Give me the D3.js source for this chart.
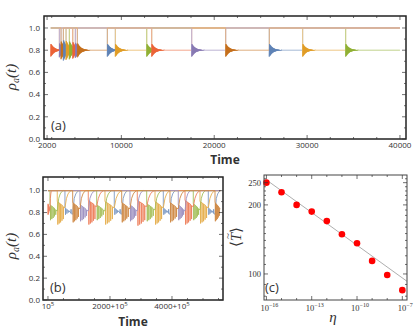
<!DOCTYPE html>
<html>
<head>
<meta charset="utf-8">
<script src="https://cdn.jsdelivr.net/npm/d3@7/dist/d3.min.js"></script>
<style>
  body { margin: 0; background: #fff; }
  svg { display: block; }
  text { font-family: 'Open Sans', sans-serif; fill: #333; }
</style>
</head>
<body>
<svg id="fig" width="415" height="330"></svg>
<script>
const palette = ['#5E81B5', '#E19C24', '#8FB032', '#EB6235', '#8778B3', '#C56E1A']

// (a) switching events: time, which unit drops, how strong the ringing is
const aStart = 2400
const aEnd = 40000
const aEventTimes = [2400, 3324, 3507, 3755, 4045, 4400, 4766, 5046, 5262, 8491, 9352, 12732, 13270, 17576, 21236, 25929, 29524, 34153]
const aEventSeries = [3, 4, 5, 0, 1, 2, 3, 4, 5, 0, 1, 2, 3, 4, 5, 0, 1, 2]
const aEventScale = [1.0, 1.1, 1.4, 1.6, 1.5, 1.4, 1.3, 1.2, 1.1, 1, 1, 1, 1, 1, 1, 1, 1, 1]
// ringing around 0.8 after a drop, one value every ringStep
const ringStep = 30
const ringOffsets = [-0.058, 0.055, -0.051, 0.047, -0.044, 0.040, -0.037, 0.034, -0.031, 0.029,
  -0.027, 0.025, -0.023, 0.021, -0.019, 0.018, -0.016, 0.015, -0.014, 0.013,
  -0.012, 0.011, -0.010, 0.009, -0.0085, 0.008, -0.0075, 0.007, -0.0065, 0.006,
  -0.0055, 0.005, -0.0045, 0.004, -0.0035, 0.003, -0.003, 0.0025, -0.0025, 0.002,
  -0.002, 0.0015, -0.0015, 0.001, -0.001, 0.0005, 0]

// (b) times after 10^5
const bStart = 0
const bEnd = 5560
const bEventTimes = [0, 65, 300, 548, 797, 1032, 1300, 1571, 1839, 2139, 2378, 2645, 2881, 3184, 3452, 3720, 3935, 4203, 4420, 4687, 4903, 5171, 5387]
const bEventSeries = [3, 2, 1, 0, 5, 4, 3, 2, 1, 0, 5, 4, 3, 2, 1, 0, 5, 4, 3, 2, 1, 0, 5]
const bTop = [0.88, 0.87, 0.90, 0.84, 0.89, 0.87, 0.91, 0.87, 0.90, 0.84, 0.89, 0.87, 0.91, 0.88, 0.90, 0.84, 0.89, 0.87, 0.91, 0.88, 0.90, 0.84, 0.89]
const bLow = [0.78, 0.73, 0.69, 0.78, 0.71, 0.72, 0.69, 0.73, 0.69, 0.78, 0.71, 0.72, 0.68, 0.72, 0.69, 0.78, 0.71, 0.73, 0.69, 0.73, 0.70, 0.78, 0.72]
const bSpikePhase = [0.06, 0.24, 0.42, 0.6, 0.78]
const bTopDrop = [0, 0.01, 0.02, 0.03, 0.045]
const bLowRise = [0, 0.01, 0.02, 0.035, 0.05]
const bRise = [[0.2, 0.93], [0.4, 0.97], [0.6, 0.99], [0.8, 1]]

// (c) mean period against noise
const cEta = [1e-16, 1e-15, 1e-14, 1e-13, 1e-12, 1e-11, 1e-10, 1e-9, 1e-8, 1e-7]
const cT = [250, 227, 200, 187, 170, 149, 136, 114, 99, 85]
const cFitEta = [1e-16, 2e-7]
const cFitT = [257, 93]

const svg = d3.select('#fig')

const buildTraces = (times, series, start, end, segment) => {
  const traces = palette.map(() => [[start, 1]])
  times.forEach((t0, k) => {
    const tr = traces[series[k]]
    if (t0 <= start) tr.length = 0
    else tr.push([t0, 1])
    const t1 = k + 1 < times.length ? times[k + 1] : end
    segment(k, t0, t1).forEach((p) => tr.push(p))
  })
  traces.forEach((tr) => {
    const l = tr[tr.length - 1]
    if (l[0] < end) tr.push([end, l[1]])
  })
  return traces
}

// ringing bursts of (a), kept apart so they can be drawn solid on top
const ringsA = []
const tracesA = buildTraces(aEventTimes, aEventSeries, aStart, aEnd, (k, t0, t1) => {
  const pts = []
  for (let j = 0; j < ringOffsets.length; j++) {
    const t = t0 + j * ringStep
    if (t >= t1) break
    pts.push([t, 0.8 + aEventScale[k] * ringOffsets[j]])
  }
  ringsA.push({ s: aEventSeries[k], pts: pts.slice() })
  pts.push([t1, 0.8])
  if (t1 < aEnd) pts.push([t1, 1])
  return pts
})

const tracesB = buildTraces(bEventTimes, bEventSeries, bStart, bEnd, (k, t0, t1) => {
  const dur = t1 - t0
  const pts = [[t0, bTop[k]]]
  bSpikePhase.forEach((u, j) => {
    const tt = t0 + u * dur
    const top = bTop[k] - bTopDrop[j]
    pts.push([tt, top], [tt + 0.012 * dur, bLow[k] + bLowRise[j]], [tt + 0.024 * dur, top - 0.005])
  })
  pts.push([t1, bTop[k] - 0.055])
  if (t1 < bEnd) bRise.forEach((r) => pts.push([t1 + r[0] * dur, r[1]]))
  return pts
})

const addTicks = (g, x, y, xMajor, xMinor, yMajor, yMinor) => {
  const [x0, x1] = x.range()
  const [y0, y1] = y.range()
  const tick = (vals, len, horiz) => {
    vals.forEach((v) => {
      if (horiz) {
        const px = x(v)
        g.append('line').attr('x1', px).attr('x2', px).attr('y1', y0).attr('y2', y0 - len)
        g.append('line').attr('x1', px).attr('x2', px).attr('y1', y1).attr('y2', y1 + len)
      } else {
        const py = y(v)
        g.append('line').attr('y1', py).attr('y2', py).attr('x1', x0).attr('x2', x0 + len)
        g.append('line').attr('y1', py).attr('y2', py).attr('x1', x1).attr('x2', x1 - len)
      }
    })
  }
  tick(xMajor, 4, true)
  tick(xMinor, 2, true)
  tick(yMajor, 4, false)
  tick(yMinor, 2, false)
  g.selectAll('line').attr('stroke', '#333').attr('stroke-width', 0.7)
}

const drawSeriesPanel = (id, x, y, traces, frameW, lineW, alpha) => {
  const g = svg.append('g')
  const [x0, x1] = x.range()
  const [y0, y1] = y.range()
  g.append('clipPath').attr('id', id)
    .append('rect').attr('x', x0).attr('y', y1).attr('width', x1 - x0).attr('height', y0 - y1)
  const line = d3.line().x((d) => x(d[0])).y((d) => y(d[1]))
  const plot = g.append('g').attr('clip-path', `url(#${id})`)
  plot.append('g').attr('opacity', alpha)
    .selectAll('path')
    .data(traces)
    .enter()
    .append('path')
    .attr('d', line)
    .attr('fill', 'none')
    .attr('stroke', (d, i) => palette[i])
    .attr('stroke-width', lineW)
  g.append('rect').attr('x', x0).attr('y', y1).attr('width', x1 - x0).attr('height', y0 - y1)
    .attr('fill', 'none').attr('stroke', '#222').attr('stroke-width', frameW)
  return { g, plot, line }
}

const yTickVals = [0, 0.2, 0.4, 0.6, 0.8, 1.0]
const yMinorVals = [0.1, 0.3, 0.5, 0.7, 0.9]

// ---- panel (a)
const xa = d3.scaleLinear().domain([1670, 40650]).range([44, 406])
const ya = d3.scaleLinear().domain([0, 1.108]).range([139, 16])
const pa = drawSeriesPanel('clipA', xa, ya, tracesA, 1.5, 1, 0.55)
pa.plot.append('g').selectAll('path')
  .data(ringsA)
  .enter()
  .append('path')
  .attr('d', (d) => pa.line(d.pts))
  .attr('fill', 'none')
  .attr('stroke', (d) => palette[d.s])
  .attr('stroke-width', 0.8)
  .attr('stroke-opacity', 0.9)
const ga = pa.g
addTicks(ga.append('g'), xa, ya, [2000, 10000, 20000, 30000, 40000],
  d3.range(2500, 40000, 2500).filter((v) => v % 10000 !== 0), yTickVals, yMinorVals)
ga.selectAll('.xl').data([2000, 10000, 20000, 30000, 40000]).enter().append('text')
  .attr('x', (d) => xa(d)).attr('y', 148).attr('text-anchor', 'middle')
  .attr('font-size', 8).text((d) => d)
ga.selectAll('.yl').data(yTickVals).enter().append('text')
  .attr('x', 40).attr('y', (d) => ya(d)).attr('dy', '0.35em').attr('text-anchor', 'end')
  .attr('font-size', 8).text((d) => d.toFixed(1))
ga.append('text').attr('x', 51).attr('y', 130).attr('font-size', 13).attr('fill', '#111').text('(a)')
ga.append('text').attr('x', 225).attr('y', 164).attr('text-anchor', 'middle')
  .attr('font-size', 12).attr('font-weight', 'bold').attr('fill', '#111').text('Time')

// ---- panel (b)
const xb = d3.scaleLinear().domain([-160, 5645]).range([43, 223])
const yb = d3.scaleLinear().domain([0, 1.125]).range([300, 177])
const gb = drawSeriesPanel('clipB', xb, yb, tracesB, 1.5, 0.9, 0.8).g
addTicks(gb.append('g'), xb, yb, [0, 2000, 4000],
  [500, 1000, 1500, 2500, 3000, 3500, 4500, 5000, 5500], yTickVals, yMinorVals)
const bLabels = ['10', '2000+10', '4000+10']
gb.selectAll('.xl').data([0, 2000, 4000]).enter().append('text')
  .attr('x', (d) => xb(d)).attr('y', 309).attr('text-anchor', 'middle')
  .attr('font-size', 8)
  .each(function(d, i) {
    const t = d3.select(this)
    t.append('tspan').text(bLabels[i])
    t.append('tspan').attr('dy', -3).attr('font-size', 6).text('5')
  })
gb.selectAll('.yl').data(yTickVals).enter().append('text')
  .attr('x', 40).attr('y', (d) => yb(d)).attr('dy', '0.35em').attr('text-anchor', 'end')
  .attr('font-size', 8).text((d) => d.toFixed(1))
gb.append('text').attr('x', 50).attr('y', 292).attr('font-size', 13).attr('fill', '#111').text('(b)')
gb.append('text').attr('x', 133).attr('y', 326).attr('text-anchor', 'middle')
  .attr('font-size', 12).attr('font-weight', 'bold').attr('fill', '#111').text('Time')

const rhoLabel = (cx, cy) => {
  const t = svg.append('text').attr('transform', `translate(${cx},${cy}) rotate(-90)`)
    .attr('text-anchor', 'middle').attr('font-size', 15)
    .style('font-family', "'Liberation Serif', serif").style('font-style', 'italic').attr('fill', '#111')
  t.append('tspan').text('ρ')
  t.append('tspan').attr('font-size', 10).attr('dy', 3).text('a')
  t.append('tspan').attr('dy', -3).text('(t)')
}
rhoLabel(16, 77)
rhoLabel(16, 246)

// ---- panel (c)
const xc = d3.scaleLog().domain([Math.pow(10, -16.16), Math.pow(10, -6.69)]).range([264, 407])
const yc = d3.scaleLog().domain([77, 270]).range([300, 175])
const gc = svg.append('g')
gc.append('path')
  .datum(cFitEta.map((e, i) => [e, cFitT[i]]))
  .attr('d', d3.line().x((d) => xc(d[0])).y((d) => yc(d[1])))
  .attr('fill', 'none').attr('stroke', '#999').attr('stroke-width', 0.8)
gc.selectAll('circle').data(cEta).enter().append('circle')
  .attr('cx', (d) => xc(d)).attr('cy', (d, i) => yc(cT[i])).attr('r', 3.3).attr('fill', '#f00')
gc.append('rect').attr('x', 264).attr('y', 175).attr('width', 143).attr('height', 125)
  .attr('fill', 'none').attr('stroke', '#444').attr('stroke-width', 1)
addTicks(gc.append('g'), xc, yc, [1e-16, 1e-13, 1e-10, 1e-7],
  [1e-15, 1e-14, 1e-12, 1e-11, 1e-9, 1e-8],
  [100, 200, 250], [80, 90, 110, 120, 130, 140, 150, 160, 170, 180, 190, 210, 220, 230, 240, 260])
const cxTicks = [[1e-16, '−16'], [1e-13, '−13'], [1e-10, '−10'], [1e-7, '−7']]
gc.selectAll('.xl').data(cxTicks).enter().append('text')
  .attr('x', (d) => xc(d[0]) + 3).attr('y', 311).attr('text-anchor', 'middle')
  .attr('font-size', 8.5).style('font-family', "'Liberation Serif', serif")
  .each(function(d) {
    const t = d3.select(this)
    t.append('tspan').text('10')
    t.append('tspan').attr('dy', -4).attr('font-size', 6).text(d[1])
  })
gc.selectAll('.yl').data([100, 200, 250]).enter().append('text')
  .attr('x', 261).attr('y', (d) => yc(d)).attr('dy', '0.35em').attr('text-anchor', 'end')
  .attr('font-size', 8.5).style('font-family', "'Liberation Serif', serif").text((d) => d)
gc.append('text').attr('x', 265).attr('y', 292).attr('font-size', 13).attr('fill', '#111').text('(c)')
gc.append('text').attr('x', 333).attr('y', 322).attr('text-anchor', 'middle')
  .attr('font-size', 15).style('font-family', "'Liberation Serif', serif").style('font-style', 'italic')
  .attr('fill', '#111').text('η')
const tLabel = gc.append('g').attr('transform', 'translate(241,237) rotate(-90)')
tLabel.append('text').attr('text-anchor', 'middle')
  .attr('font-size', 15).style('font-family', "'Liberation Serif', serif")
  .attr('fill', '#111')
  .each(function() {
    const t = d3.select(this)
    t.append('tspan').text('⟨')
    t.append('tspan').style('font-style', 'italic').text('T')
    t.append('tspan').text('⟩')
  })
tLabel.append('text').attr('x', 1).attr('y', -10).attr('text-anchor', 'middle')
  .attr('font-size', 11).style('font-family', "'Liberation Serif', serif")
  .attr('fill', '#111').text('~')
</script>
</body>
</html>
